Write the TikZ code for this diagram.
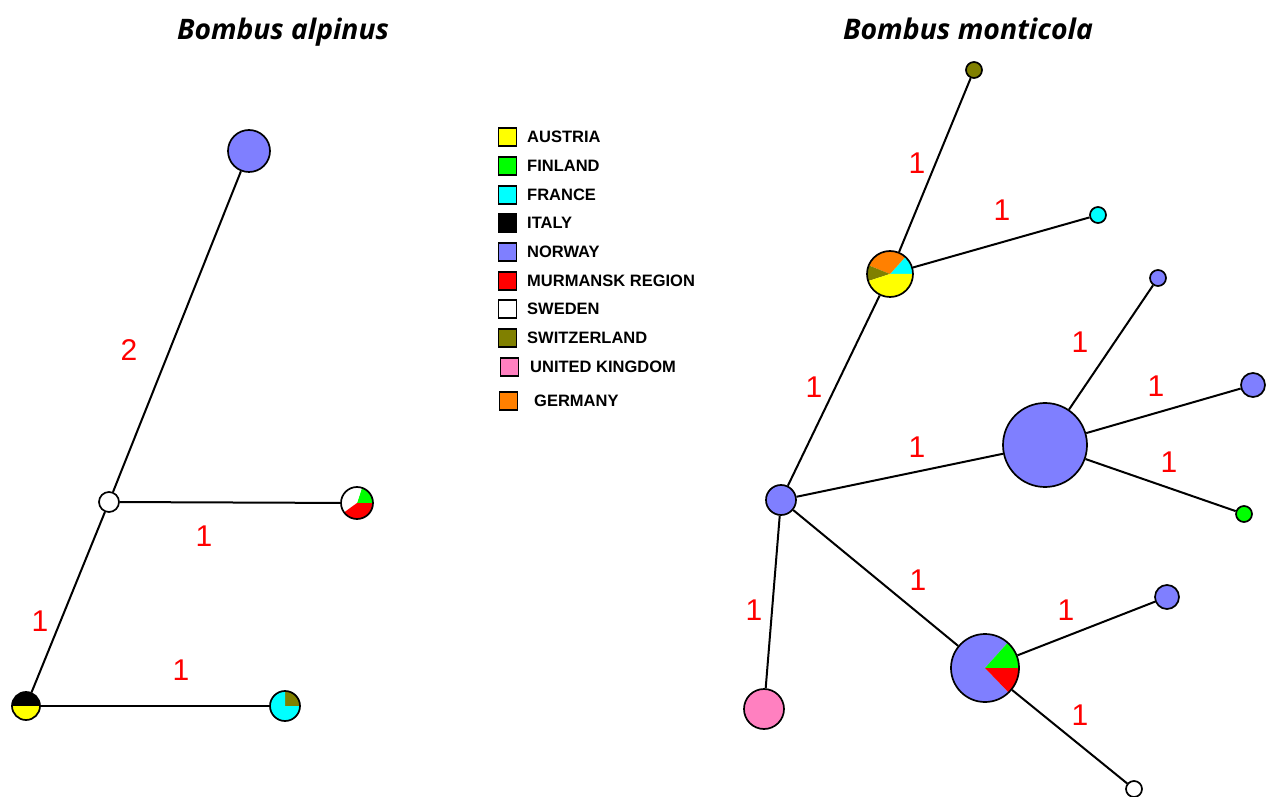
\documentclass[tikz,border=0pt]{standalone}
\usepackage{fontspec}
\setmainfont{Liberation Sans}
\newfontfamily\titlefont{Open Sans}
\usepackage{graphicx}
\definecolor{nor}{HTML}{7F7FFF}
\definecolor{aut}{HTML}{FFFF00}
\definecolor{fin}{HTML}{00FF00}
\definecolor{fra}{HTML}{00FFFF}
\definecolor{ita}{HTML}{000000}
\definecolor{mur}{HTML}{FF0000}
\definecolor{swe}{HTML}{FFFFFF}
\definecolor{swi}{HTML}{808000}
\definecolor{uk}{HTML}{FF80C0}
\definecolor{ger}{HTML}{FF8000}
\tikzset{
  hap/.style={circle,draw=black,line width=1.7pt,inner sep=0pt,minimum size=#1},
  edge/.style={line width=2pt},
  lbl/.style={text=red,font=\fontsize{30}{30}\selectfont,inner sep=0pt},
  legbox/.style={draw=black,line width=1.2pt,minimum size=18pt,inner sep=0pt},
  legtext/.style={font=\bfseries\fontsize{16.5}{18}\selectfont,anchor=west,inner sep=0pt},
  ttl/.style={inner sep=0pt,anchor=base}
}
\newcommand\slice[5]{\fill[#5] (#1) -- ++(#3:#2pt) arc[start angle=#3,end angle=#4,radius=#2pt] -- cycle;}
\begin{document}
\begin{tikzpicture}[x=1pt,y=1pt]
\useasboundingbox (0,0) rectangle (1266,796);
% titles
\node[ttl] (t1) at (283,756) {\resizebox{212pt}{!}{\titlefont\bfseries\itshape Bombus alpinus}};
\node[ttl] (t2) at (968,756) {\resizebox{250pt}{!}{\titlefont\bfseries\itshape Bombus monticola}};

% ---------- left network ----------
\coordinate (cP1) at (357,293);
\coordinate (cP2) at (26,90);
\coordinate (cP3) at (285,90);
\slice{cP1}{16}{0}{72}{fin}
\slice{cP1}{16}{72}{216}{swe}
\slice{cP1}{16}{216}{360}{mur}
\slice{cP2}{14}{0}{180}{ita}
\slice{cP2}{14}{180}{360}{aut}
\slice{cP3}{15}{0}{90}{swi}
\slice{cP3}{15}{90}{360}{fra}
\node[hap=42pt,fill=nor] (a1) at (249,645) {};
\node[hap=20pt,fill=white] (aw) at (109,294) {};
\node[hap=32pt] (p1) at (cP1) {};
\node[hap=28pt] (p2) at (cP2) {};
\node[hap=30pt] (p3) at (cP3) {};
\draw[edge] (a1) -- (aw);
\draw[edge] (aw) -- (p1);
\draw[edge] (aw) -- (p2);
\draw[edge] (p2) -- (p3);
\node[lbl] (l1) at (129,446) {2};
\node[lbl] (l2) at (204,260) {1};
\node[lbl] (l3) at (40,175) {1};
\node[lbl] (l4) at (181,126) {1};

% ---------- legend ----------
\foreach \c/\t/\y/\bx/\tx [count=\i] in {aut/AUSTRIA/659/507.5/527, fin/FINLAND/630/507.5/527, fra/FRANCE/601/507.5/527, ita/ITALY/573/507.5/527, nor/NORWAY/544/507.5/527, mur/MURMANSK REGION/515/507.5/527, swe/SWEDEN/487/507.5/527, swi/SWITZERLAND/458/507.5/527, uk/UNITED KINGDOM/429/509.5/530, ger/GERMANY/395/508.5/534}{
  \node[legbox,fill=\c] (lb\i) at (\bx,\y) {};
  \node[legtext] (lt\i) at (\tx,\y) {\t};
}

% ---------- right network ----------
\coordinate (cQ) at (890,522);
\coordinate (cR) at (985,128);
\slice{cQ}{23}{0}{48}{fra}
\slice{cQ}{23}{48}{158}{ger}
\slice{cQ}{23}{158}{198}{swi}
\slice{cQ}{23}{198}{360}{aut}
\slice{cR}{34}{48}{314}{nor}
\slice{cR}{34}{0}{48}{fin}
\slice{cR}{34}{314}{360}{mur}
\node[hap=16pt,fill=swi] (o) at (974,726) {};
\node[hap=46pt] (q) at (cQ) {};
\node[hap=16pt,fill=fra] (c) at (1098,581) {};
\node[hap=16pt,fill=nor] (n1) at (1158,518) {};
\node[hap=84pt,fill=nor] (b) at (1045,351) {};
\node[hap=24pt,fill=nor] (n2) at (1253,411) {};
\node[hap=16pt,fill=fin] (g) at (1244,282) {};
\node[hap=30pt,fill=nor] (h) at (781,296) {};
\node[hap=40pt,fill=uk] (k) at (764,87) {};
\node[hap=68pt] (r) at (cR) {};
\node[hap=24pt,fill=nor] (n3) at (1167,199) {};
\node[hap=16pt,fill=white] (s) at (1134,7) {};
\draw[edge] (o) -- (q);
\draw[edge] (q) -- (c);
\draw[edge] (q) -- (h);
\draw[edge] (h) -- (b);
\draw[edge] (b) -- (n1);
\draw[edge] (b) -- (n2);
\draw[edge] (b) -- (g);
\draw[edge] (h) -- (k);
\draw[edge] (h) -- (r);
\draw[edge] (r) -- (n3);
\draw[edge] (r) -- (s);
\node[lbl] (m1) at (917,633) {1};
\node[lbl] (m2) at (1002,586) {1};
\node[lbl] (m3) at (814,409) {1};
\node[lbl] (m4) at (917,349) {1};
\node[lbl] (m5) at (1080,454) {1};
\node[lbl] (m6) at (1156,410) {1};
\node[lbl] (m7) at (1169,334) {1};
\node[lbl] (m8) at (754,186) {1};
\node[lbl] (m9) at (918,216) {1};
\node[lbl] (m10) at (1066,186) {1};
\node[lbl] (m11) at (1080,81) {1};
\end{tikzpicture}
\end{document}
